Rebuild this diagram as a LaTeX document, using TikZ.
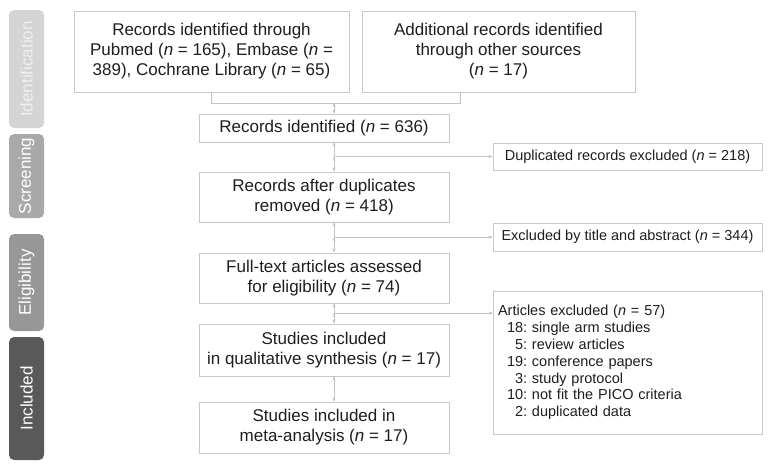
\documentclass[tikz,border=0pt]{standalone}
\usepackage{fontspec}
\setmainfont{Liberation Sans}
\usepackage{xcolor}
\usetikzlibrary{arrows.meta,calc}

\definecolor{boxline}{HTML}{C8C8C8}
\definecolor{linkline}{HTML}{C4C4C4}
\definecolor{txt}{HTML}{1E1E1E}
\definecolor{stageA}{HTML}{D4D4D4}
\definecolor{stageB}{HTML}{A9A9A9}
\definecolor{stageC}{HTML}{979797}
\definecolor{stageD}{HTML}{595959}

\tikzset{
  flowbox/.style={draw=boxline, line width=0.9pt, fill=white, text=txt, align=center,
    inner sep=0pt, font=\fontsize{17}{20}\selectfont},
  sidebox/.style={draw=boxline, line width=0.9pt, fill=white, text=txt,
    inner sep=0pt, font=\fontsize{14.5}{16.8}\selectfont\frenchspacing},
  stagebar/.style={fill=#1, rounded corners=5pt, minimum height=35pt, inner sep=0pt,
    text=white, rotate=90, font=\fontsize{17}{20}\selectfont},
  link/.style={draw=linkline, line width=0.9pt},
  linkarrow/.style={link, -{Stealth[length=4pt,width=3pt]}}
}

\newcommand{\nn}{\textit{n}}

\begin{document}
\begin{tikzpicture}[x=1pt,y=-1pt]
            \useasboundingbox (0,0) rectangle (774,467);

            \node[stagebar=stageA, minimum width=118pt, text=white!94!black] (ident) at (26.5,69) {Identification};
            \node[stagebar=stageB, minimum width=84pt] (screen) at (26.5,176) {Screening};
            \node[stagebar=stageC, minimum width=97pt] (elig) at (26.5,282.5) {Eligibility};
            \node[stagebar=stageD, minimum width=123pt] (incl) at (26.5,398.5) {Included};

            \node[flowbox, minimum width=275pt, minimum height=81pt] (dbs) at (211.5,51.5)
                {Records identified through\\Pubmed (\nn{} = 165), Embase (\nn{} =\\389), Cochrane Library (\nn{} = 65)};
            \node[flowbox, minimum width=273pt, minimum height=81pt] (other) at (498.5,51.5)
                {Additional records identified\\through other sources\\(\nn{} = 17)};

            \node[flowbox, minimum width=250pt, minimum height=28pt] (found) at (324,128) {Records identified (\nn{} = 636)};
            \node[flowbox, minimum width=250pt, minimum height=50pt] (dedup) at (324,197) {Records after duplicates\\removed (\nn{} = 418)};
            \node[flowbox, minimum width=250pt, minimum height=50pt] (fulltext) at (324,278) {Full-text articles assessed\\for eligibility (\nn{} = 74)};
            \node[flowbox, minimum width=250pt, minimum height=52pt] (quali) at (324,350) {Studies included\\in qualitative synthesis (\nn{} = 17)};
            \node[flowbox, minimum width=250pt, minimum height=51pt] (meta) at (324,427.5) {Studies included in\\meta-analysis (\nn{} = 17)};

            \node[sidebox, minimum width=269pt, minimum height=27pt] (dupex) at (627.5,156.5) {Duplicated records excluded (\nn{} = 218)};
            \node[sidebox, minimum width=269pt, minimum height=28pt] (titleex) at (627.5,237) {Excluded by title and abstract (\nn{} = 344)};
            \node[sidebox, minimum width=269pt, minimum height=143pt, text width=259pt, align=left] (artex) at (627.5,362.5)
                {Articles excluded (\nn{} = 57)\\
                 \hspace*{9pt}18: single arm studies\\
                 \hspace*{9pt}\phantom{1}5: review articles\\
                 \hspace*{9pt}19: conference papers\\
                 \hspace*{9pt}\phantom{1}3: study protocol\\
                 \hspace*{9pt}10: not fit the PICO criteria\\
                 \hspace*{9pt}\phantom{1}2: duplicated data};

            % joints of the flow line
            \coordinate (jtop) at (334,103);
            \coordinate (jother) at (460,103);
            \coordinate (jart) at (334,313);

            \path [link] (dbs.south) |- (jother) -- (jother |- other.south);
            \path [linkarrow] (jtop) edge (jtop |- found.north);
            \path [linkarrow] (found.south -| jtop) edge (dedup.north -| jtop);
            \path [linkarrow] (dedup.south -| jtop) edge (fulltext.north -| jtop);
            \path [linkarrow] (fulltext.south -| jtop) edge (quali.north -| jtop);
            \path [linkarrow] (quali.south -| jtop) edge (meta.north -| jtop);

            \path [linkarrow] (dupex.west -| jtop) edge (dupex.west);
            \path [linkarrow] (titleex.west -| jtop) edge (titleex.west);
            \path [linkarrow] (jart) edge (jart -| artex.west);
        \end{tikzpicture}
\end{document}
